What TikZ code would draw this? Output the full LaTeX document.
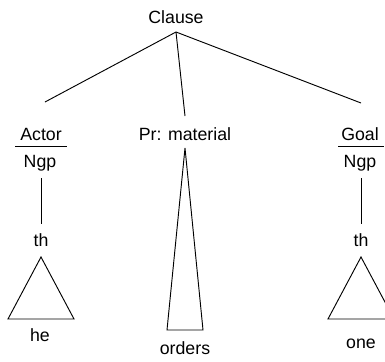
\documentclass[tikz,border=0pt]{standalone}
\usepackage{fontspec}
\setmainfont{Liberation Sans}
\begin{document}
\begin{tikzpicture}[x=0.75pt,y=-0.75pt,
  lbl/.style={inner sep=0pt,anchor=base,font=\fontsize{13.3}{16}\selectfont},
  ln/.style={line width=0.7pt,line join=miter}]
\useasboundingbox (0,0) rectangle (385,361);
\clip (0,0) rectangle (385,361);
% labels
\node[lbl] (clause) at (176,23) {Clause};
\node[lbl] (actor) at (41,140) {Actor};
\node[lbl] (ngpA) at (40,167.5) {Ngp};
\node[lbl] (pr) at (185,140) {Pr: material};
\node[lbl] (goal) at (360,140) {Goal};
\node[lbl] (ngpG) at (360,167.5) {Ngp};
\node[lbl] (thA) at (41,246.5) {th};
\node[lbl] (thG) at (361,246.5) {th};
\node[lbl] (he) at (40,341.5) {he};
\node[lbl] (orders) at (185,354) {orders};
\node[lbl] (one) at (361,348) {one};
% coordinates
\coordinate (top) at (176,32);
\coordinate (lA) at (45,102);
\coordinate (lP) at (185,116);
\coordinate (lG) at (361,103);
\coordinate (vA1) at (41,178);
\coordinate (vA2) at (41,224);
\coordinate (vG1) at (361,178);
\coordinate (vG2) at (361,224);
% tree lines
\draw[ln] (top) -- (lA);
\draw[ln] (top) -- (lP);
\draw[ln] (top) -- (lG);
% role / class rules
\draw[ln] (15,146) -- (67,146);
\draw[ln] (338,146) -- (384,146);
\draw[ln] (vA1) -- (vA2);
\draw[ln] (vG1) -- (vG2);
% triangles
\draw[ln] (41,257) -- (8,319) -- (74,319) -- cycle;
\draw[ln] (185,148) -- (167,330) -- (203,330) -- cycle;
\draw[ln] (361,257) -- (328,319) -- (394,319) -- cycle;
\end{tikzpicture}
\end{document}
